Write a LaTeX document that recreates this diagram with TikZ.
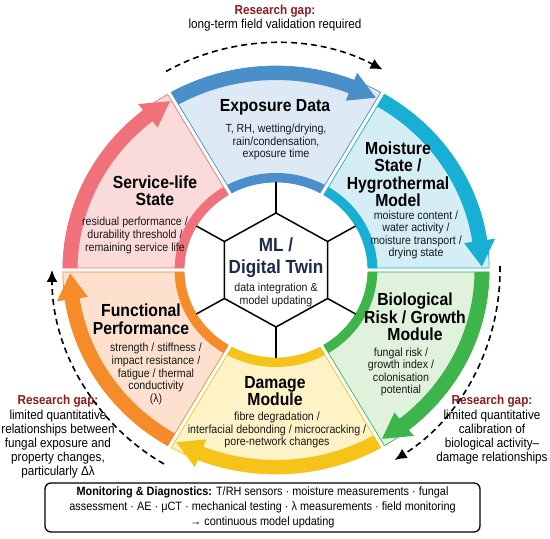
\documentclass[tikz,border=0pt]{standalone}
\usepackage{fontspec}
\setmainfont[FakeStretch=0.9]{Liberation Sans}
\usetikzlibrary{arrows.meta, calc}

\definecolor{bandexpo}{HTML}{4A8FCA}  \definecolor{fillexpo}{HTML}{DDE9F5}
\definecolor{bandmoist}{HTML}{17AFD3} \definecolor{fillmoist}{HTML}{D5EEF6}
\definecolor{bandbio}{HTML}{3DB54A}   \definecolor{fillbio}{HTML}{E1F2DC}
\definecolor{banddam}{HTML}{F6C419}   \definecolor{filldam}{HTML}{FDF3C6}
\definecolor{bandfunc}{HTML}{F68B2A}  \definecolor{fillfunc}{HTML}{FDE1CE}
\definecolor{bandlife}{HTML}{F07179}  \definecolor{filllife}{HTML}{FBDADA}
\definecolor{gapred}{HTML}{8E1B1E}
\definecolor{twinnavy}{HTML}{1D2B4B}

\begin{document}
\begin{tikzpicture}[
        x=1pt, y=1pt,
        sectitle/.style={font=\bfseries\fontsize{17.5}{17.5}\selectfont, align=center, inner sep=0pt},
        secbody/.style={font=\fontsize{11.8}{12.6}\selectfont, align=center, inner sep=0pt, text=black!90},
        gapnote/.style={font=\fontsize{13}{14.2}\selectfont, align=center, inner sep=0pt},
        gaparrow/.style={draw, line width=1.6pt, dash pattern=on 6pt off 4pt, -{Latex[length=12pt,width=11pt]}},
        hexline/.style={draw, line width=1.5pt}
      ]

      \fill[white] (0,0) rectangle (550,539);
      \useasboundingbox (0,0) rectangle (550,539);
      \coordinate (ring) at (276,269);

      \begin{scope}[shift={(ring)}, xscale=1.045]
        \foreach \ang/\sname in {90/expo,30/moist,-30/bio,-90/dam,-150/func,150/life}{
          \begin{scope}[rotate=\ang]
            \filldraw[fill=fill\sname, draw=band\sname, line width=0.7pt]
              (28.7:88) arc[start angle=28.7, end angle=-28.7, radius=88]
              -- (-29.44:204) arc[start angle=-29.44, end angle=29.44, radius=204] -- cycle;
            \fill[band\sname]
              (28.7:88) arc[start angle=28.7, end angle=-28.7, radius=88]
              -- (-28.82:97) arc[start angle=-28.82, end angle=28.82, radius=97] -- cycle;
            \fill[band\sname]
              (29.4:190) arc[start angle=29.4, end angle=-21.5, radius=190]
              -- (-21.5:182) -- (-29:197) -- (-21.5:212) -- (-21.5:204)
              arc[start angle=-21.5, end angle=29.44, radius=204] -- cycle;
          \end{scope}
        }
        \foreach \ang [count=\i] in {90,30,-30,-90,-150,150}{
          \coordinate (hex\i) at (\ang:57);
          \coordinate (rim\i) at (\ang:88);
        }
        \path[hexline, fill=white] (hex1) -- (hex2) -- (hex3) -- (hex4) -- (hex5) -- (hex6) -- cycle;
        \foreach \i in {1,...,6}
          \draw[hexline] (hex\i) -- (rim\i);
      \end{scope}

      \node[sectitle] (exptitle) at (275,432) {Exposure Data};
      \node[secbody] (expbody) at (276,397) {T, RH, wetting/drying,\\rain/condensation,\\exposure time};

      \node[sectitle] (moisttitle) at (398,365) {Moisture\\State /\\Hygrothermal\\Model};
      \node[secbody] (moistbody) at (416,304) {moisture content /\\water activity /\\moisture transport /\\drying state};

      \node[sectitle] (biotitle) at (415,222) {Biological\\Risk / Growth\\Module};
      \node[secbody] (biobody) at (401,167) {fungal risk /\\growth index /\\colonisation\\potential};

      \node[sectitle] (damtitle) at (275,148) {Damage\\Module};
      \node[secbody] (dambody) at (277,109) {fibre degradation /\\interfacial debonding / microcracking /\\pore-network changes};

      \node[sectitle] (functitle) at (141,220) {Functional\\Performance};
      \node[secbody] (funcbody) at (156,165) {strength / stiffness /\\impact resistance /\\fatigue / thermal\\conductivity\\(λ)};

      \node[sectitle] (lifetitle) at (155,348.5) {Service-life\\State};
      \node[secbody] (lifebody) at (135,303.5) {residual performance /\\durability threshold /\\remaining service life};

      \node[font=\bfseries\fontsize{19}{22}\selectfont, text=twinnavy, align=center, inner sep=0pt] (twintitle) at (276,281) {ML /\\Digital Twin};
      \node[secbody, font=\fontsize{11.8}{13}\selectfont] (twinbody) at (276,244.5) {data integration \&\\model updating};

      \node[gapnote] (gaptop) at (275,520.5) {{\bfseries\color{gapred}Research gap:}\\long-term field validation required};
      \node[gapnote] (gapleft) at (58,102) {{\bfseries\color{gapred}Research gap:}\\limited quantitative\\relationships between\\fungal exposure and\\property changes,\\particularly Δλ};
      \node[gapnote] (gapright) at (492,109) {{\bfseries\color{gapred}Research gap:}\\limited quantitative\\calibration of\\biological activity–\\damage relationships};

      \coordinate (topgapA) at ($(ring)+(119:227)$);
      \coordinate (rightgapA) at ($(ring)+(1:224)$);
      \coordinate (leftgapA) at ($(ring)+(-120:224)$);
      \draw[gaparrow] (topgapA) arc[start angle=119, end angle=62, radius=227];
      \draw[gaparrow] (rightgapA) arc[start angle=1, end angle=-58, radius=224];
      \draw[gaparrow] (leftgapA) arc[start angle=-120, end angle=-180, radius=224];

      \node[draw, line width=1.3pt, rounded corners=6pt, minimum width=435, minimum height=49,
            inner sep=0pt, align=center, font=\fontsize{12.1}{15}\selectfont] (monitor) at (262.5,31.5)
        {\textbf{Monitoring \& Diagnostics:} T/RH sensors · moisture measurements · fungal\\
         assessment · AE · μCT · mechanical testing · λ measurements · field monitoring\\
         → continuous model updating};

\end{tikzpicture}
\end{document}
